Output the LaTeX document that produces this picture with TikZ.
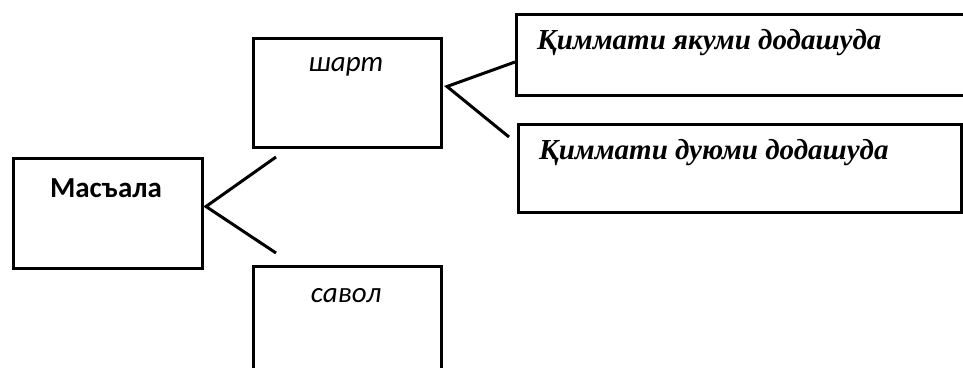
\documentclass[tikz,border=0pt]{standalone}
\usepackage{fontspec}
\setmainfont{Liberation Serif}
\newfontfamily\carlito{Carlito}
\tikzset{
  box/.style={draw=black, line width=3pt, inner sep=0pt, anchor=north west},
  conn/.style={draw=black, line width=3pt},
  serifbi/.style={font=\fontsize{29}{32}\selectfont\bfseries\itshape, inner sep=0pt},
  calbold/.style={font=\carlito\fontsize{29}{32}\selectfont\bfseries, inner sep=0pt},
  calit/.style={font=\carlito\fontsize{29}{32}\selectfont\itshape, inner sep=0pt},
}
\begin{document}
\begin{tikzpicture}[x=1pt,y=-1pt]
\useasboundingbox (0,0) rectangle (963,367);
% boxes
\node[box, minimum width=189pt, minimum height=110pt] (masala) at (12,157) {};
\node[box, minimum width=188pt, minimum height=109pt] (shart) at (252,37) {};
\node[box, minimum width=188pt, minimum height=140pt] (savol) at (252,265) {};
\node[box, minimum width=480pt, minimum height=81pt] (yak) at (515,13) {};
\node[box, minimum width=443pt, minimum height=88pt] (du) at (517,123) {};
% texts
\node[calbold] (tmasala) at (106,188) {Масъала};
\node[calit] (tshart) at (346,67) {шарт};
\node[calit] (tsavol) at (346,296) {савол};
\node[serifbi, anchor=west] (tyak) at (537,43) {Қиммати якуми додашуда};
\node[serifbi, anchor=west] (tdu) at (539,153) {Қиммати дуюми додашуда};
% connectors
\coordinate (apex1) at ([xshift=2pt,yshift=7pt]masala.east);
\coordinate (end1) at (276,157);
\coordinate (end2) at (276,253);
\draw[conn] (end1) -- (apex1) -- (end2);
\coordinate (apex2) at ([xshift=4pt,yshift=6.5pt]shart.east);
\coordinate (end3) at (509,137);
\draw[conn] (yak.west |- 0,62) -- (apex2) -- (end3);
\end{tikzpicture}
\end{document}
